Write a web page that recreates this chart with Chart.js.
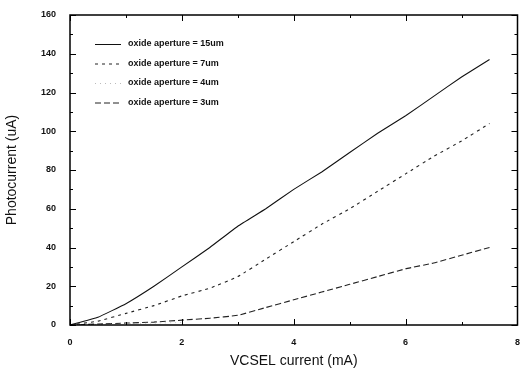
<!DOCTYPE html>
<html>
<head>
<meta charset="utf-8">
<script src="https://cdn.jsdelivr.net/npm/chart.js@4/dist/chart.umd.min.js"></script>
<style>
  html, body { margin: 0; padding: 0; background: #fff; }
</style>
</head>
<body>
<canvas id="pc" width="524" height="374"></canvas>
<script>
const current = [0, 0.5, 1, 1.5, 2, 2.5, 3, 3.5, 4, 4.5, 5, 5.5, 6, 6.5, 7, 7.5];
const ap15 = [0, 4, 11, 20, 30, 40, 51, 60, 70, 79, 89, 99, 108, 118, 128, 137];
const ap7 = [0, 2, 6, 10, 15, 19, 25, 34, 43, 52, 60, 69, 78, 87, 95, 104];
const ap4 = [0, 0.3, 0.6, 1, 1.3, null, null, null, null, null, null, null, null, null, null, null];
const ap3 = [0, 0.5, 1, 1.5, 2.5, 3.5, 5, 9, 13, 17, 21, 25, 29, 32, 36, 40];
const legendLabels = ['oxide aperture = 15um', 'oxide aperture = 7um', 'oxide aperture = 4um', 'oxide aperture = 3um'];
const xTicks = [0, 2, 4, 6, 8];

const FONT = '"Liberation Sans", Arial, sans-serif';

function pts(ys) {
  return current.map((x, i) => ({ x: x, y: ys[i] }));
}

// inward ticks on all four sides, plus the legend box
const framePlugin = {
  id: 'frame',
  afterDraw(chart) {
    const ctx = chart.ctx;
    const a = chart.chartArea;
    const xs = chart.scales.x, ys = chart.scales.y;
    ctx.save();
    ctx.strokeStyle = '#000';
    ctx.lineWidth = 1.5;
    ctx.strokeRect(a.left, a.top, a.right - a.left, a.bottom - a.top);
    ctx.lineWidth = 1;
    ctx.beginPath();
    for (let v = 0; v <= 8; v += 1) {
      const p = Math.round(xs.getPixelForValue(v)) + 0.5;
      const len = v % 2 === 0 ? 6 : 3;
      ctx.moveTo(p, a.bottom); ctx.lineTo(p, a.bottom - len);
      ctx.moveTo(p, a.top); ctx.lineTo(p, a.top + len);
    }
    for (let v = 0; v <= 160; v += 10) {
      const p = Math.round(ys.getPixelForValue(v)) + 0.5;
      const len = v % 20 === 0 ? 6 : 3;
      ctx.moveTo(a.left, p); ctx.lineTo(a.left + len, p);
      ctx.moveTo(a.right, p); ctx.lineTo(a.right - len, p);
    }
    ctx.stroke();

    // legend
    ctx.font = 'bold 9px ' + FONT;
    ctx.textBaseline = 'middle';
    chart.data.datasets.forEach((ds, i) => {
      const y = a.top + 29 + i * 19.5;
      ctx.beginPath();
      ctx.setLineDash(ds.borderDash || []);
      ctx.strokeStyle = ds.borderColor;
      ctx.lineWidth = 1;
      ctx.moveTo(a.left + 25, y + 0.5);
      ctx.lineTo(a.left + 51, y + 0.5);
      ctx.stroke();
      ctx.setLineDash([]);
      ctx.fillStyle = '#111';
      ctx.fillText(legendLabels[i], a.left + 58, y);
    });
    ctx.restore();
  }
};

new Chart(document.getElementById('pc'), {
  type: 'line',
  data: {
    datasets: [
      { label: legendLabels[0], data: pts(ap15), borderColor: '#111', borderWidth: 1.1 },
      { label: legendLabels[1], data: pts(ap7), borderColor: '#222', borderWidth: 1.1, borderDash: [3, 4] },
      { label: legendLabels[2], data: pts(ap4), borderColor: '#bbb', borderWidth: 0.8, borderDash: [1, 4] },
      { label: legendLabels[3], data: pts(ap3), borderColor: '#222', borderWidth: 1.1, borderDash: [6, 3] }
    ]
  },
  options: {
    responsive: false,
    animation: false,
    layout: { padding: { top: 15, right: 1, left: 0, bottom: 0 } },
    elements: { point: { radius: 0 }, line: { tension: 0.1 } },
    plugins: { legend: { display: false }, tooltip: { enabled: false } },
    scales: {
      x: {
        type: 'linear', min: 0, max: 8,
        afterFit(s) { s.height = 49; },
        afterBuildTicks(s) { s.ticks = xTicks.map(v => ({ value: v })); },
        grid: { display: false },
        border: { display: false },
        ticks: { color: '#111', font: { family: FONT, size: 9, weight: 'bold' }, padding: 4, maxRotation: 0 },
        title: { display: true, text: 'VCSEL current (mA)', color: '#111', font: { family: FONT, size: 14 }, padding: { top: 8 } }
      },
      y: {
        type: 'linear', min: 0, max: 160,
        afterFit(s) { s.width = 70; },
        grid: { display: false },
        border: { display: false },
        ticks: { stepSize: 20, color: '#111', font: { family: FONT, size: 9, weight: 'bold' }, padding: 6 },
        title: { display: true, text: 'Photocurrent (uA)', color: '#111', font: { family: FONT, size: 14 }, padding: { bottom: 8 } }
      }
    }
  },
  plugins: [framePlugin]
});
</script>
</body>
</html>
